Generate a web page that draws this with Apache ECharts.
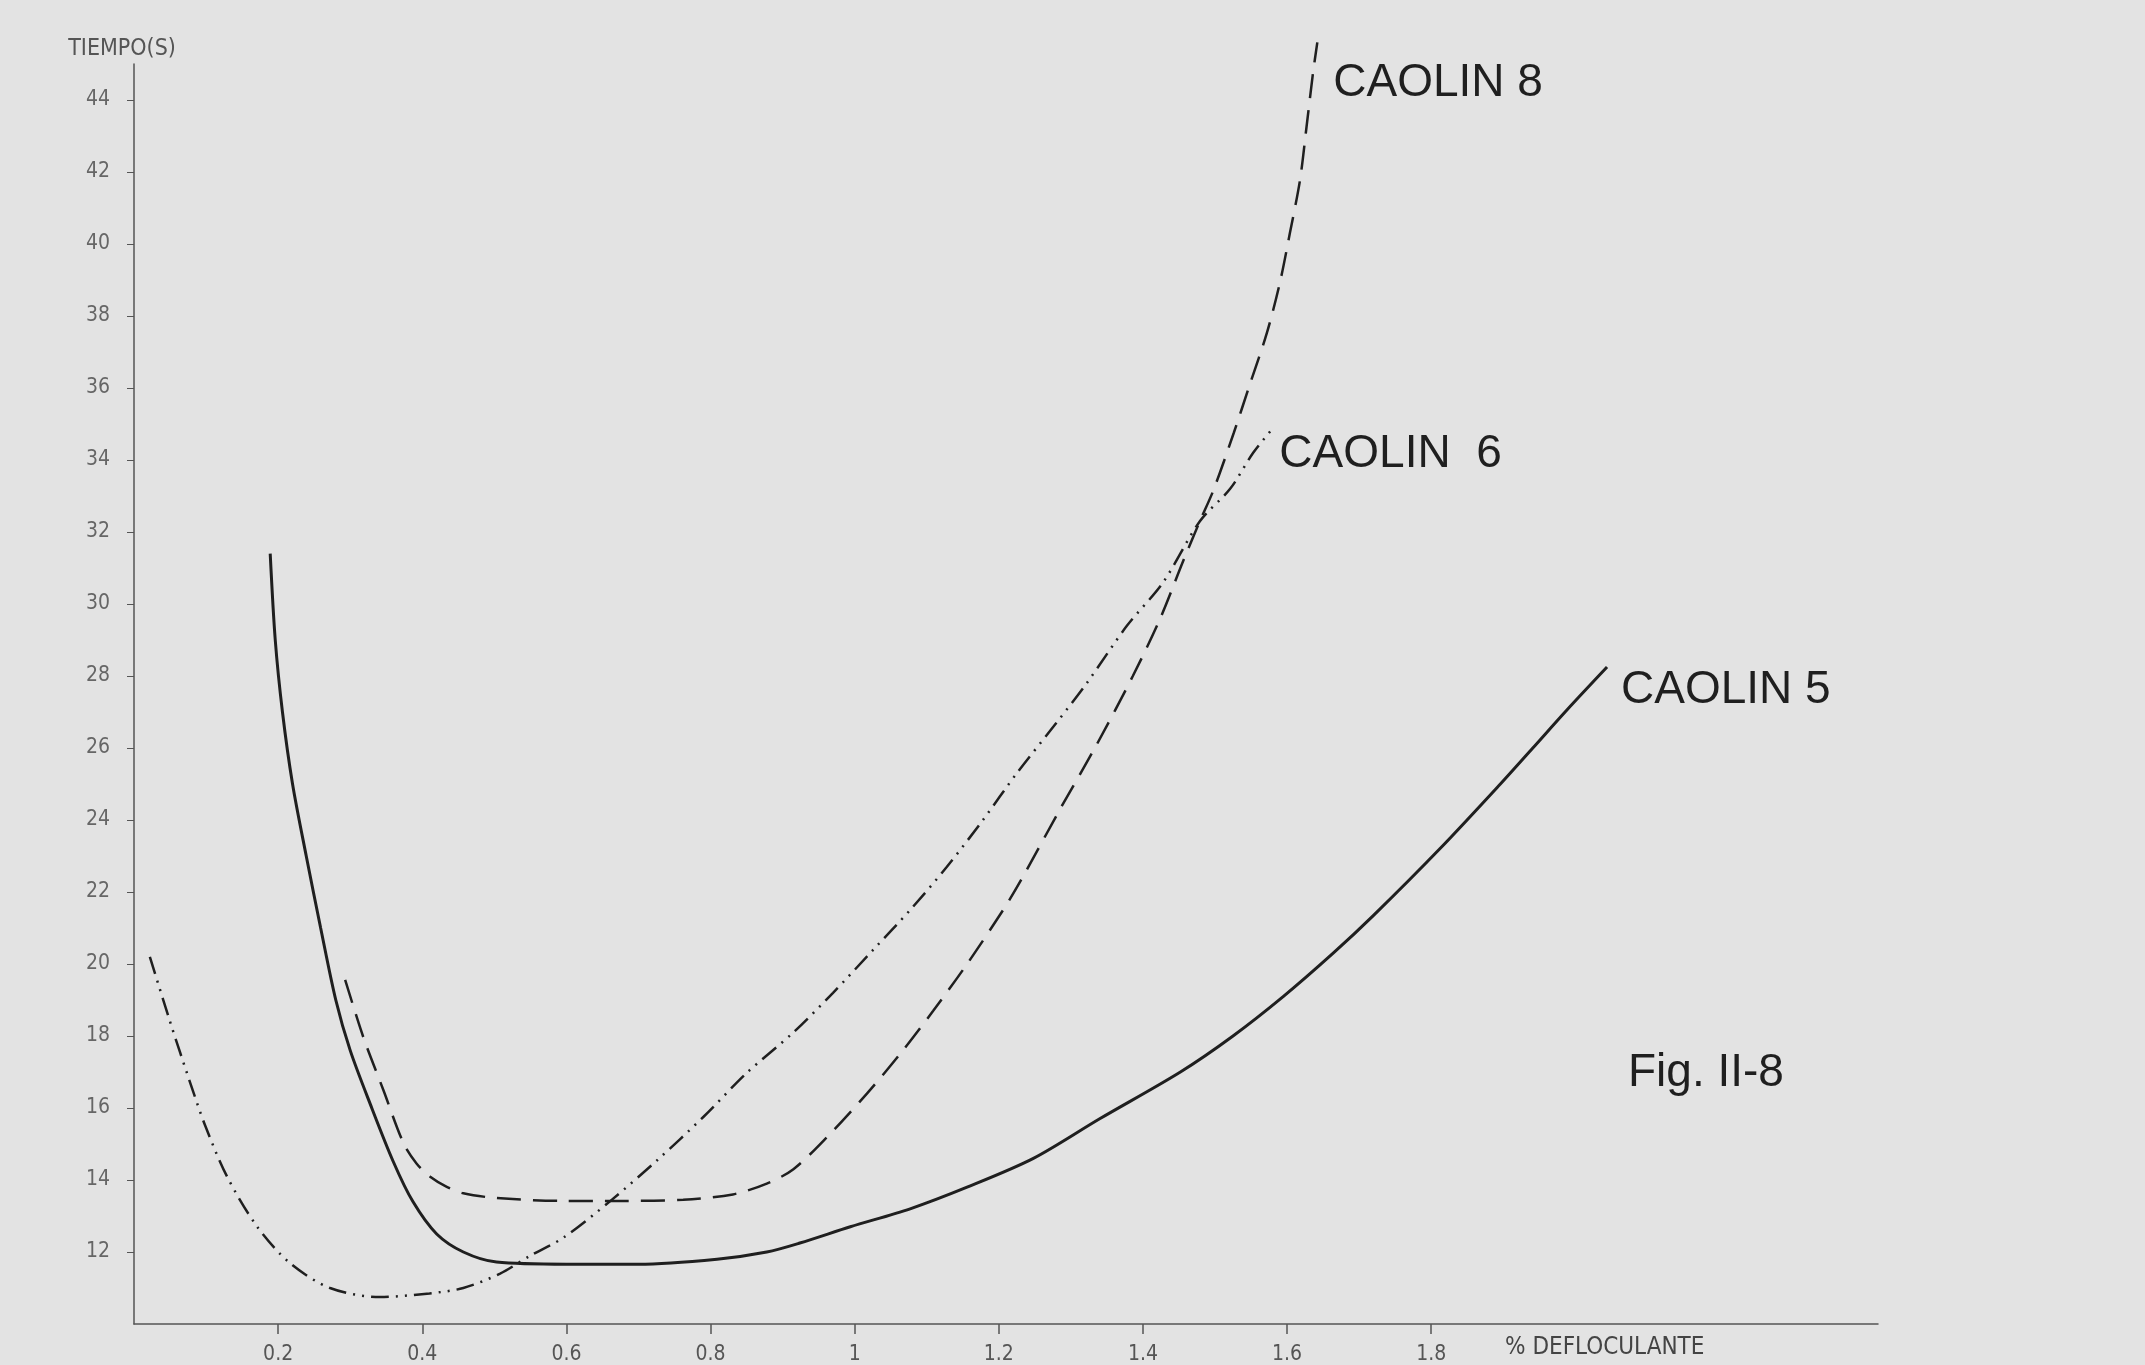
<!DOCTYPE html>
<html>
<head>
<meta charset="utf-8">
<title>Fig. II-8</title>
<script src="https://cdn.jsdelivr.net/npm/echarts@6/dist/echarts.min.js"></script>
<style>
  html, body { margin: 0; padding: 0; background: #e3e3e3; }
  #chart { width: 2145px; height: 1365px; }
</style>
</head>
<body>
<div id="chart"></div>
<script>
// ticks shown on the axes
const xTicks = [0.2, 0.4, 0.6, 0.8, 1, 1.2, 1.4, 1.6, 1.8];
const yTicks = [12, 14, 16, 18, 20, 22, 24, 26, 28, 30, 32, 34, 36, 38, 40, 42, 44];

// [% defloculante, tiempo (s)]
const caolin5 = [
  [0.189, 31.4], [0.196, 29.0], [0.206, 27.0], [0.22, 25.0], [0.239, 23.0],
  [0.259, 21.0], [0.28, 19.0], [0.3, 17.6], [0.328, 16.1], [0.36, 14.5],
  [0.387, 13.4], [0.42, 12.5], [0.457, 12.0], [0.503, 11.72], [0.6, 11.66],
  [0.7, 11.66], [0.809, 11.8], [0.878, 12.0], [0.924, 12.25], [0.994, 12.7],
  [1.077, 13.2], [1.156, 13.8], [1.248, 14.6], [1.34, 15.7], [1.452, 17.0],
  [1.525, 18.0], [1.595, 19.1], [1.664, 20.3], [1.72, 21.35], [1.812, 23.2],
  [1.896, 25.0], [1.941, 26.0], [1.988, 27.05], [2.044, 28.25]
];
const caolin6 = [
  [0.022, 20.2], [0.05, 18.4], [0.078, 16.7], [0.099, 15.5], [0.129, 14.1],
  [0.171, 12.7], [0.216, 11.7], [0.272, 11.0], [0.341, 10.75], [0.41, 10.85],
  [0.457, 11.0], [0.508, 11.4], [0.55, 11.9], [0.596, 12.4], [0.66, 13.4],
  [0.726, 14.55], [0.79, 15.75], [0.85, 16.97], [0.915, 18.1], [0.97, 19.2],
  [1.026, 20.4], [1.077, 21.5], [1.128, 22.7], [1.178, 24.0], [1.225, 25.3],
  [1.28, 26.7], [1.322, 27.8], [1.378, 29.4], [1.428, 30.6], [1.479, 32.3],
  [1.521, 33.2], [1.553, 34.2], [1.581, 34.9]
];
const caolin8 = [
  [0.293, 19.56], [0.318, 17.98], [0.346, 16.5], [0.374, 15.02], [0.392, 14.46],
  [0.411, 14.09], [0.434, 13.81], [0.457, 13.63], [0.503, 13.5], [0.596, 13.42],
  [0.674, 13.42], [0.762, 13.45], [0.831, 13.6], [0.878, 13.9], [0.915, 14.3],
  [0.962, 15.2], [1.017, 16.4], [1.063, 17.5], [1.109, 18.7], [1.156, 20.0],
  [1.206, 21.5], [1.23, 22.3], [1.285, 24.3], [1.336, 26.1], [1.386, 28.0],
  [1.424, 29.6], [1.456, 31.2], [1.479, 32.3], [1.498, 33.17], [1.526, 34.75],
  [1.549, 36.14], [1.572, 37.53], [1.59, 38.92], [1.604, 40.31], [1.618, 41.78],
  [1.627, 43.25], [1.636, 44.75], [1.642, 45.6]
];

const INK = "#1f1f1f";
const AXIS = "#555";
const NARROW = "'Liberation Sans Narrow', 'DejaVu Sans Condensed', 'Liberation Sans', sans-serif";
const LABEL_FONT = "'Liberation Sans', Arial, sans-serif";

function curve(name, data, dash, width, labelOffset) {
  return {
    name: name,
    type: "line",
    data: data,
    smooth: 0.3,
    symbol: "none",
    clip: false,
    lineStyle: { color: INK, width: width, type: dash },
    endLabel: {
      show: true,
      formatter: "{a}",
      color: INK,
      fontFamily: LABEL_FONT,
      fontSize: 46,
      offset: labelOffset,
    },
  };
}

const chart = echarts.init(document.getElementById("chart"));
chart.setOption({
  animation: false,
  backgroundColor: "#e3e3e3",
  grid: { left: 134, right: 267, top: 64, bottom: 41 },
  xAxis: {
    type: "value",
    min: 0,
    max: 2.42,
    interval: 0.2,
    axisLine: { lineStyle: { color: AXIS, width: 1.5 } },
    axisTick: { show: true, length: 10, customValues: xTicks, lineStyle: { color: AXIS, width: 1.5 } },
    axisLabel: {
      customValues: xTicks,
      margin: 20,
      color: "#555",
      fontFamily: NARROW,
      fontSize: 21,
      formatter: (v) => String(+v.toFixed(1)),
    },
    splitLine: { show: false },
  },
  yAxis: {
    type: "value",
    min: 10,
    max: 45,
    interval: 2,
    name: "TIEMPO(S)",
    nameLocation: "end",
    nameGap: 3,
    nameTextStyle: {
      color: "#555",
      fontFamily: NARROW,
      fontSize: 23,
      padding: [0, 24, 0, 0],
    },
    axisLine: { show: true, lineStyle: { color: AXIS, width: 1.5 } },
    axisTick: { show: true, length: 7, customValues: yTicks, lineStyle: { color: AXIS } },
    axisLabel: {
      customValues: yTicks,
      margin: 24,
      color: "#666",
      fontFamily: NARROW,
      fontSize: 21,
    },
    splitLine: { show: false },
  },
  graphic: [
    {
      type: "text",
      left: 1505,
      top: 1336,
      style: { text: "% DEFLOCULANTE", fill: "#444", font: "24px " + NARROW },
    },
    {
      type: "text",
      left: 1628,
      top: 1050,
      style: { text: "Fig. II-8", fill: INK, font: "46px " + LABEL_FONT },
    },
  ],
  series: [
    curve("CAOLIN 5", caolin5, "solid", 3, [6, 23]),
    curve("CAOLIN  6", caolin6, [18, 7, 2, 7, 2, 7], 2.5, [-2, 27]),
    curve("CAOLIN 8", caolin8, [24, 12], 2.5, [8, 41]),
  ],
});
</script>
</body>
</html>
